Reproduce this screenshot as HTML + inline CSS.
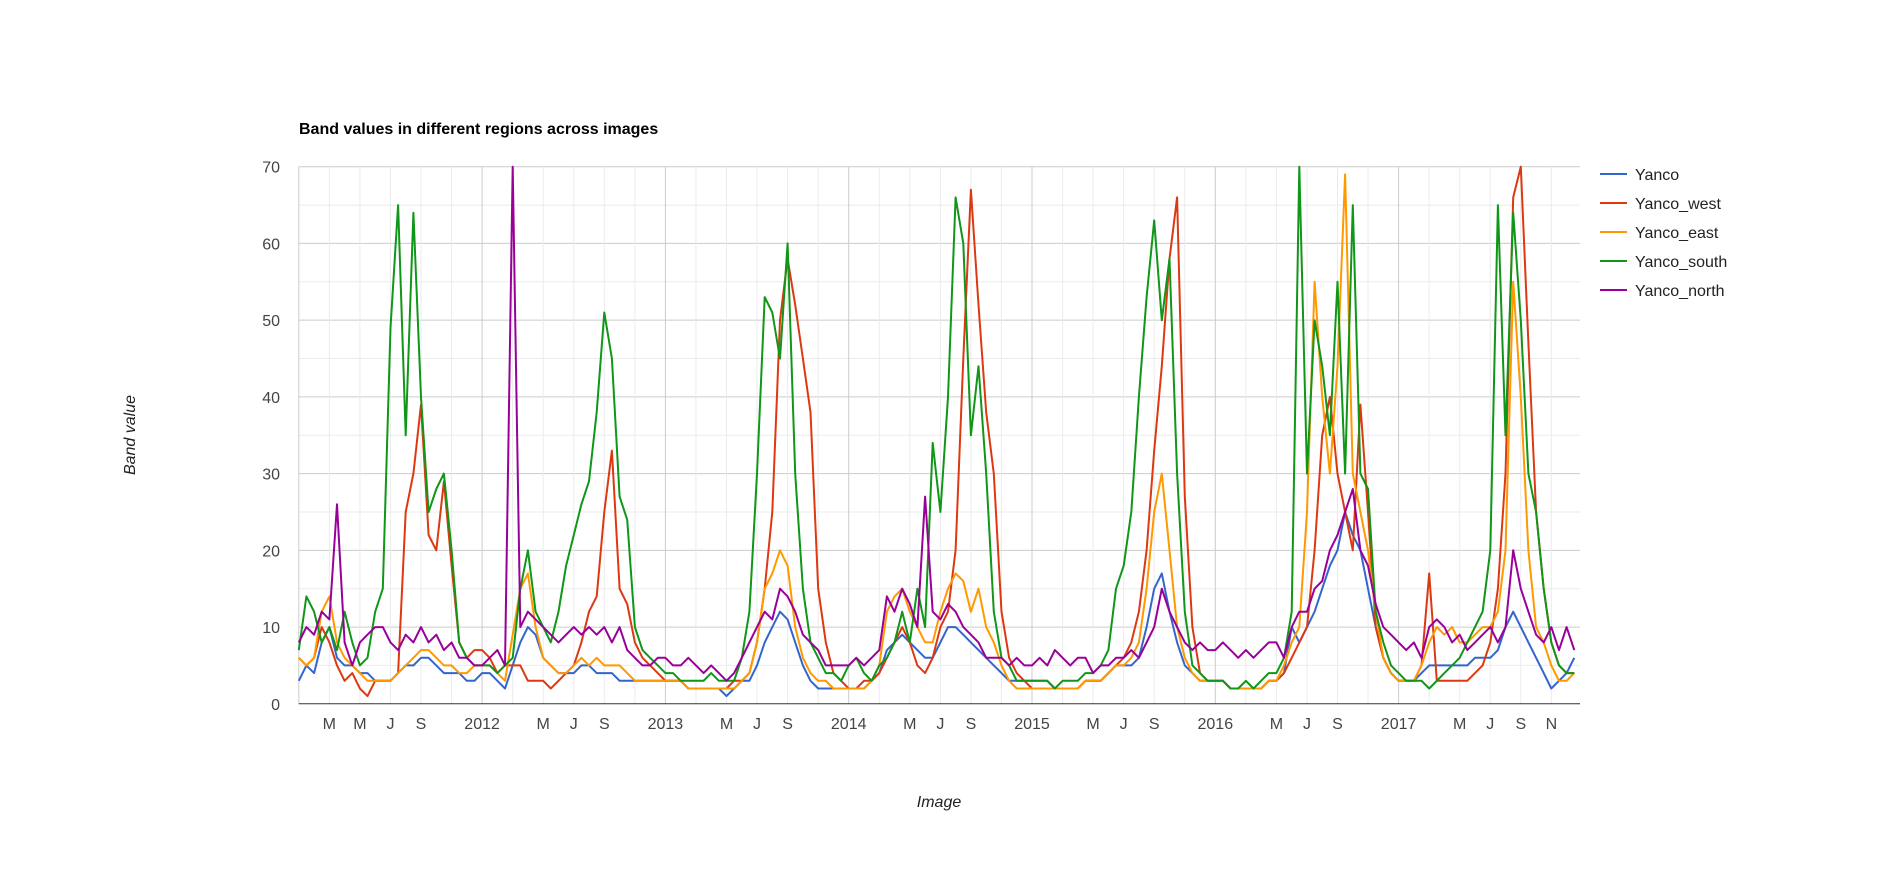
<!DOCTYPE html>
<html><head><meta charset="utf-8"><style>
body{margin:0;background:#fff;}
svg{display:block;font-family:"Liberation Sans",Arial,sans-serif;}
</style></head><body>
<svg id="chart" width="1880" height="871" viewBox="0 0 1880 871" xmlns="http://www.w3.org/2000/svg">
<rect x="0" y="0" width="1880" height="871" fill="#fff"/>
<g id="grid"></g>
<g id="series"></g>
<g id="axes"></g>
<text x="299" y="134" font-size="16" font-weight="bold" fill="#000">Band values in different regions across images</text>
<text x="939" y="807" font-size="16" font-style="italic" fill="#222" text-anchor="middle">Image</text>
<text x="135" y="435" font-size="16" font-style="italic" fill="#222" text-anchor="middle" transform="rotate(-90 135 435)">Band value</text>
<g id="legend"></g>
</svg>
<script>
const startYear = 2011;
const stepsPerYear = 24;
const seriesNames = ["Yanco","Yanco_west","Yanco_east","Yanco_south","Yanco_north"];
const yTicks = [0,10,20,30,40,50,60,70];
const xTickLabels = ["","M","M","J","S","","2012","","M","J","S","","2013","","M","J","S","","2014","","M","J","S","","2015","","M","J","S","","2016","","M","J","S","","2017","","M","J","S","N"];
const yanco = [
3,5,4,8,10,6,5,5,4,4,3,3,3,4,5,5,6,6,5,4,4,4,3,3,
4,4,3,2,5,8,10,9,6,5,4,4,4,5,5,4,4,4,3,3,3,3,3,3,
3,3,3,2,2,2,2,2,1,2,3,3,5,8,10,12,11,8,5,3,2,2,2,2,
2,2,2,3,4,7,8,9,8,7,6,6,8,10,10,9,8,7,6,5,4,3,3,3,
3,3,3,2,2,2,2,3,3,3,4,5,5,5,6,10,15,17,12,8,5,4,3,3,
3,3,2,2,2,2,2,3,3,4,10,8,10,12,15,18,20,25,22,20,15,10,6,4,
3,3,3,4,5,5,5,5,5,5,6,6,6,7,10,12,10,8,6,4,2,3,4,6];
const yancoWest = [
6,5,6,10,8,5,3,4,2,1,3,3,3,4,25,30,39,22,20,29,18,8,6,7,
7,6,4,5,5,5,3,3,3,2,3,4,5,8,12,14,25,33,15,13,8,6,5,4,
3,3,3,2,2,2,2,2,2,3,3,4,8,15,25,50,58,52,45,38,15,8,4,3,
2,2,3,3,4,6,8,10,8,5,4,6,10,12,20,45,67,52,38,30,12,6,4,3,
2,2,2,2,2,2,2,3,3,3,4,5,6,8,12,20,33,44,58,66,27,10,4,3,
3,3,2,2,2,2,2,3,3,4,6,8,10,20,35,40,30,25,20,39,25,10,6,4,
3,3,3,5,17,3,3,3,3,3,4,5,8,15,30,66,70,47,25,15,8,5,4,4];
const yancoEast = [
6,5,6,12,14,8,6,5,4,3,3,3,3,4,5,6,7,7,6,5,5,4,4,5,
5,5,4,3,9,15,17,10,6,5,4,4,5,6,5,6,5,5,5,4,3,3,3,3,
3,3,3,2,2,2,2,2,2,2,3,4,8,15,17,20,18,10,6,4,3,3,2,2,
2,2,2,3,5,12,14,15,12,10,8,8,12,15,17,16,12,15,10,8,5,3,2,2,
2,2,2,2,2,2,2,3,3,3,4,5,5,6,8,15,25,30,20,10,6,4,3,3,
3,3,2,2,2,2,2,3,3,5,8,10,25,55,40,30,44,69,30,25,20,12,6,4,
3,3,3,5,8,10,9,10,8,8,9,10,10,12,20,55,40,20,10,8,5,3,3,4];
const yancoSouth = [
7,14,12,8,10,7,12,8,5,6,12,15,49,65,35,64,40,25,28,30,20,8,6,5,
5,5,4,5,6,15,20,12,10,8,12,18,22,26,29,38,51,45,27,24,10,7,6,5,
4,4,3,3,3,3,4,3,3,3,6,12,30,53,51,45,60,30,15,8,6,4,4,3,
5,6,4,3,5,6,8,12,8,15,10,34,25,40,66,60,35,44,30,12,6,5,3,3,
3,3,3,2,3,3,3,4,4,5,7,15,18,25,40,53,63,50,58,30,12,5,4,3,
3,3,2,2,3,2,3,4,4,6,12,70,30,50,44,35,55,30,65,30,28,12,8,5,
4,3,3,3,2,3,4,5,6,8,10,12,20,65,35,64,50,30,25,15,8,5,4,4];
const yancoNorth = [
8,10,9,12,11,26,8,5,8,9,10,10,8,7,9,8,10,8,9,7,8,6,6,5,
5,6,7,5,70,10,12,11,10,9,8,9,10,9,10,9,10,8,10,7,6,5,5,6,
6,5,5,6,5,4,5,4,3,4,6,8,10,12,11,15,14,12,9,8,7,5,5,5,
5,6,5,6,7,14,12,15,13,10,27,12,11,13,12,10,9,8,6,6,6,5,6,5,
5,6,5,7,6,5,6,6,4,5,5,6,6,7,6,8,10,15,12,10,8,7,8,7,
7,8,7,6,7,6,7,8,8,6,10,12,12,15,16,20,22,25,28,20,18,13,10,9,
8,7,8,6,10,11,10,8,9,7,8,9,10,8,10,20,15,12,9,8,10,7,10,7];
const seriesValues = [yanco, yancoWest, yancoEast, yancoSouth, yancoNorth];
const colors = ["#3366cc","#dc3912","#ff9900","#109618","#990099"];

const NS = "http://www.w3.org/2000/svg";
const L = 298.8, R = 1580, T = 166.7, B = 703.8, yMax = 70, yearW = 183.3;
function xScale(t){ return L + t * yearW; }
function yScale(v){ return B - (v / yMax) * (B - T); }
function mk(tag, attrs, parent){ const e = document.createElementNS(NS, tag); for (const k in attrs) e.setAttribute(k, attrs[k]); parent.appendChild(e); return e; }

const grid = document.getElementById("grid");
for (let v = 5; v <= 70; v += 5) {
  const y = yScale(v);
  const gl = mk("line", {x1:L, x2:R, y1:y, y2:y, stroke: v % 10 === 0 ? "#cccccc" : "#ebebeb", "stroke-width":1}, grid);
  
  
}
for (let k = 0; k < xTickLabels.length; k++) {
  const x = xScale(k / 6);
  if (x > R + 1) break;
  const gl = mk("line", {x1:x, x2:x, y1:T, y2:B, stroke: k % 6 === 0 ? "#cccccc" : "#ebebeb", "stroke-width":1}, grid);
  
  
}

const sg = document.getElementById("series");
seriesValues.forEach((vals, s) => {
  const pts = vals.map((v, i) => xScale(i / stepsPerYear).toFixed(1) + "," + yScale(v).toFixed(1)).join(" ");
  const pl = mk("polyline", {points: pts, fill:"none", stroke: colors[s], "stroke-width":2, "stroke-linejoin":"round"}, sg);
  
  
});

const ax = document.getElementById("axes");
const base = mk("line", {x1:L, x2:R, y1:B, y2:B, stroke:"#333", "stroke-width":1}, ax);


yTicks.forEach(v => {
  const t = mk("text", {x:280, y:yScale(v) + 6, "font-size":16, fill:"#444", "text-anchor":"end"}, ax);
  t.textContent = v;
  
  
});
xTickLabels.forEach((lab, k) => {
  if (!lab) return;
  const t = mk("text", {x:xScale(k / 6), y:729, "font-size":16, fill:"#444", "text-anchor":"middle"}, ax);
  t.textContent = lab;
  
  
});

const lg = document.getElementById("legend");
seriesNames.forEach((n, s) => {
  const y = 174 + s * 29;
  const g = mk("g", {}, lg);
  
  
  mk("line", {x1:1600, x2:1627, y1:y, y2:y, stroke:colors[s], "stroke-width":2}, g);
  const t = mk("text", {x:1635, y:y + 6, "font-size":16, fill:"#222"}, g);
  t.textContent = n;
});
</script>
</body></html>
